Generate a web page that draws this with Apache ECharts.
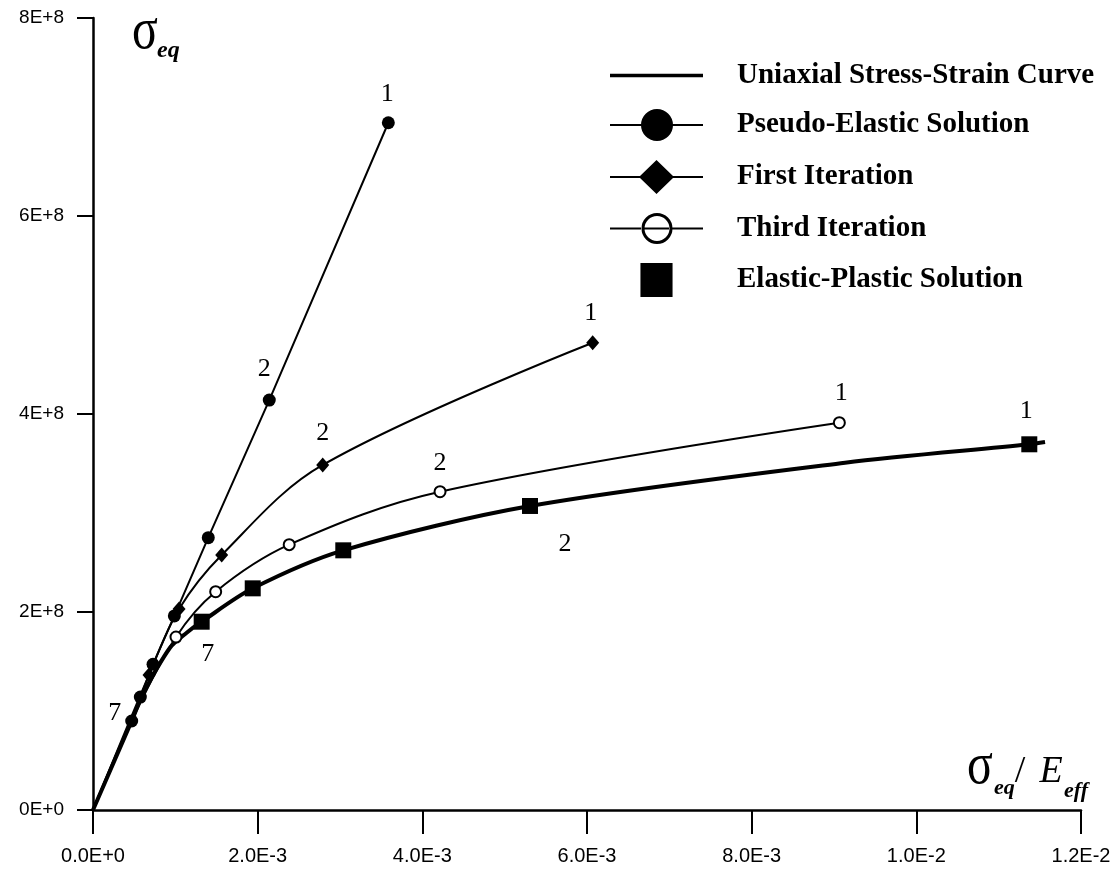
<!DOCTYPE html>
<html>
<head>
<meta charset="utf-8">
<title>Equivalent stress vs strain</title>
<script src="https://cdn.jsdelivr.net/npm/echarts@6/dist/echarts.min.js"></script>
<style>
  html, body { margin: 0; padding: 0; background: #fff; }
  #chart { width: 1118px; height: 871px; }
</style>
</head>
<body>
<div id="chart"></div>
<script>
// tick labels
const xTickLabels = ['0.0E+0', '2.0E-3', '4.0E-3', '6.0E-3', '8.0E-3', '1.0E-2', '1.2E-2'];
const yTickLabels = ['0E+0', '2E+8', '4E+8', '6E+8', '8E+8'];

const seriesNames = [
  'Uniaxial Stress-Strain Curve',
  'Pseudo-Elastic Solution',
  'First Iteration',
  'Third Iteration',
  'Elastic-Plastic Solution',
];

// x = sigma_eq / E_eff, y = sigma_eq
const uniaxialX = [0, 0.470e-3, 0.607e-3, 0.935e-3, 1.138e-3, 1.320e-3, 1.940e-3, 3.040e-3, 5.308e-3, 9.134e-3, 11.372e-3, 11.563e-3];
const uniaxialY = [0, 0.899e8, 1.172e8, 1.639e8, 1.791e8, 1.902e8, 2.239e8, 2.623e8, 3.071e8, 3.508e8, 3.694e8, 3.717e8];

// tags: null = curve only (no marker), '' = marker, '1'/'2'/'7' = numbered marker
const pseudoX = [0, 0.470e-3, 0.575e-3, 0.729e-3, 0.988e-3, 1.400e-3, 2.141e-3, 3.587e-3];
const pseudoY = [0, 0.899e8, 1.141e8, 1.472e8, 1.960e8, 2.751e8, 4.141e8, 6.942e8];
const pseudoTags = [null, '7', '', '', '', '', '2', '1'];

const firstX = [0, 0.680e-3, 1.045e-3, 1.563e-3, 2.790e-3, 6.069e-3];
const firstY = [0, 1.364e8, 2.030e8, 2.576e8, 3.485e8, 4.720e8];
const firstTags = [null, '', '', '', '2', '1'];

const thirdX = [0, 0.470e-3, 1.008e-3, 1.490e-3, 2.383e-3, 4.215e-3, 9.065e-3];
const thirdY = [0, 0.899e8, 1.747e8, 2.205e8, 2.680e8, 3.215e8, 3.912e8];
const thirdTags = [null, null, '', '', '', '2', '1'];

const plasticX = [1.320e-3, 1.940e-3, 3.040e-3, 5.308e-3, 11.372e-3];
const plasticY = [1.902e8, 2.239e8, 2.623e8, 3.071e8, 3.694e8];
const plasticTags = ['7', '', '', '2', '1'];

// where the point numbers sit relative to their marker
const tagOffsets = {
  pseudo: { '1': [-1, -29], '2': [-5, -31], '7': [-17, -8] },
  first: { '1': [-2, -30], '2': [0, -32] },
  third: { '1': [2, -30], '2': [0, -29] },
  plastic: { '1': [-3, -33], '2': [35, 38], '7': [6, 32] },
};

function buildPoints(xs, ys, tags, offsets) {
  return xs.map((x, i) => {
    const item = { value: [x, ys[i]] };
    const tag = tags ? tags[i] : '';
    if (tag === null) {
      item.symbol = 'none';
    } else if (tag) {
      item.label = { show: true, formatter: tag, offset: offsets[tag] };
    }
    return item;
  });
}

const serif = '"Liberation Serif", "Times New Roman", serif';
const sans = '"Liberation Sans", Arial, sans-serif';

const pointLabel = {
  show: false,
  position: 'inside',
  fontFamily: serif,
  fontSize: 26,
  color: '#000',
  opacity: 1,
};

// legend icons: line with the marker in the middle
const legendIcons = [
  'path://M0,0L93,0L93,3.5L0,3.5Z',
  'path://M0,16L93,16L93,18L0,18ZM63,17A16,16,0,1,1,31,17A16,16,0,1,1,63,17Z',
  'path://M0,16L93,16L93,18L0,18ZM46.5,0L64,17L46.5,34L29,17Z',
  'path://M0,16L31,16L31,18L0,18ZM62,16L93,16L93,18L62,18ZM34,16L59,16L59,18L34,18Z' +
    'M62.5,17A15.5,15.5,0,1,1,31.5,17A15.5,15.5,0,1,1,62.5,17ZM59.5,17A12.5,12.5,0,1,0,34.5,17A12.5,12.5,0,1,0,59.5,17Z',
  'path://M0,0L34,0L34,36L0,36Z',
];

function textEl(x, y, text, font, align, scaleX) {
  return {
    type: 'text',
    x: x,
    y: y,
    scaleX: scaleX || 1,
    silent: true,
    style: {
      text: text,
      font: font,
      fill: '#000',
      align: align,
      verticalAlign: 'middle',
      textAlign: align,
      textVerticalAlign: 'middle',
    },
  };
}

const chart = echarts.init(document.getElementById('chart'));

const option = {
  animation: false,
  backgroundColor: '#fff',
  grid: {
    left: 93,
    right: 37,
    top: 18,
    bottom: 61,
    containLabel: false,
    outerBoundsMode: 'none',
  },
  legend: {
    orient: 'vertical',
    left: 605,
    top: 56,
    itemWidth: 93,
    itemHeight: 34,
    itemGap: 19,
    selectedMode: false,
    itemStyle: { color: '#000', borderWidth: 0, opacity: 1 },
    textStyle: {
      fontFamily: serif,
      fontWeight: 'bold',
      fontSize: 29,
      color: '#000',
      padding: [0, 0, 0, 29],
    },
    data: seriesNames.map((name, i) => ({ name: name, icon: legendIcons[i] })),
  },
  xAxis: {
    type: 'value',
    min: 0,
    max: 0.012,
    interval: 0.002,
    splitLine: { show: false },
    axisLine: { show: true, onZero: false, lineStyle: { color: '#000', width: 2.5 } },
    axisTick: { show: true, length: 24, lineStyle: { color: '#000', width: 2 } },
    axisLabel: {
      margin: 36,
      color: '#000',
      fontSize: 20,
      fontFamily: sans,
      formatter: v => xTickLabels[Math.round(v / 0.002)],
    },
  },
  yAxis: {
    type: 'value',
    min: 0,
    max: 8e8,
    interval: 2e8,
    splitLine: { show: false },
    axisLine: { show: true, onZero: false, lineStyle: { color: '#000', width: 2.5 } },
    axisTick: { show: true, length: 16, lineStyle: { color: '#000', width: 2 } },
    axisLabel: {
      margin: 29,
      color: '#000',
      fontSize: 19,
      fontFamily: sans,
      formatter: v => yTickLabels[Math.round(v / 2e8)],
    },
  },
  graphic: [
    // y axis title
    textEl(145, 32, 'σ', '60px ' + serif, 'center', 0.8),
    textEl(157, 51, 'eq', 'italic bold 24px ' + serif, 'left'),
    // x axis title
    textEl(980, 767, 'σ', '60px ' + serif, 'center', 0.8),
    textEl(994, 788, 'eq', 'italic bold 22px ' + serif, 'left'),
    textEl(1020, 772, '/', '38px ' + serif, 'center'),
    textEl(1051, 772, 'E', 'italic 38px ' + serif, 'center'),
    textEl(1064, 791, 'eff', 'italic bold 22px ' + serif, 'left'),
  ],
  series: [
    {
      name: seriesNames[0],
      type: 'line',
      z: 2,
      smooth: 0.3,
      symbol: 'none',
      color: '#000',
      lineStyle: { color: '#000', width: 4 },
      data: buildPoints(uniaxialX, uniaxialY, null, {}),
    },
    {
      name: seriesNames[1],
      type: 'line',
      z: 3,
      symbol: 'circle',
      symbolSize: 13,
      color: '#000',
      itemStyle: { color: '#000' },
      lineStyle: { color: '#000', width: 2 },
      label: pointLabel,
      data: buildPoints(pseudoX, pseudoY, pseudoTags, tagOffsets.pseudo),
    },
    {
      name: seriesNames[2],
      type: 'line',
      z: 3,
      smooth: 0.35,
      symbol: 'diamond',
      symbolSize: [13, 15],
      color: '#000',
      itemStyle: { color: '#000' },
      lineStyle: { color: '#000', width: 2 },
      label: pointLabel,
      data: buildPoints(firstX, firstY, firstTags, tagOffsets.first),
    },
    {
      name: seriesNames[3],
      type: 'line',
      z: 3,
      smooth: 0.35,
      symbol: 'emptyCircle',
      symbolSize: 11,
      color: '#000',
      itemStyle: { color: '#000', borderColor: '#000', borderWidth: 2 },
      lineStyle: { color: '#000', width: 2 },
      label: pointLabel,
      data: buildPoints(thirdX, thirdY, thirdTags, tagOffsets.third),
    },
    {
      name: seriesNames[4],
      type: 'scatter',
      z: 4,
      symbol: 'rect',
      symbolSize: 16,
      color: '#000',
      itemStyle: { color: '#000', opacity: 1 },
      label: pointLabel,
      data: buildPoints(plasticX, plasticY, plasticTags, tagOffsets.plastic),
    },
  ],
};

chart.setOption(option);
window.addEventListener('resize', chart.resize);
</script>
</body>
</html>
